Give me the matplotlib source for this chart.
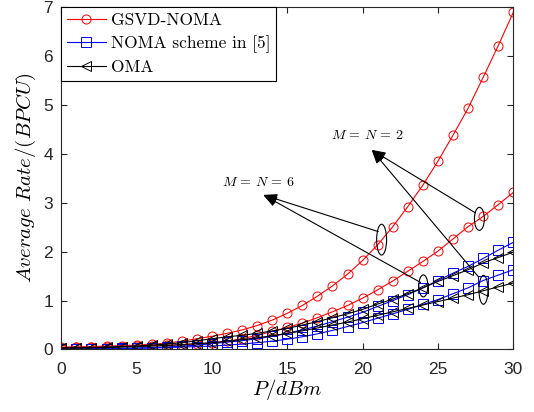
import matplotlib
matplotlib.use("Agg")
import matplotlib.pyplot as plt
from matplotlib.patches import Ellipse

plt.rcParams["mathtext.fontset"] = "cm"

# P/dBm
p_dbm = list(range(31))

# GSVD-NOMA
gsvd_m6 = [0.05, 0.055, 0.06, 0.07, 0.08, 0.09, 0.11, 0.13, 0.17, 0.22,
           0.27, 0.33, 0.40, 0.49, 0.60, 0.74, 0.90, 1.09, 1.30, 1.54,
           1.82, 2.14, 2.51, 2.92, 3.36, 3.85, 4.38, 4.93, 5.56, 6.21, 6.89]
gsvd_m2 = [0.04, 0.045, 0.05, 0.055, 0.06, 0.07, 0.08, 0.09, 0.10, 0.115,
           0.13, 0.17, 0.22, 0.29, 0.37, 0.45, 0.54, 0.65, 0.77, 0.90,
           1.05, 1.22, 1.40, 1.60, 1.80, 2.01, 2.26, 2.51, 2.72, 2.96, 3.21]

# NOMA scheme in [5]
noma_m6 = [0.01, 0.012, 0.015, 0.02, 0.025, 0.03, 0.04, 0.05, 0.07, 0.09,
           0.12, 0.15, 0.18, 0.22, 0.27, 0.33, 0.40, 0.48, 0.57, 0.66,
           0.76, 0.88, 1.00, 1.12, 1.26, 1.41, 1.56, 1.70, 1.86, 2.03, 2.19]
noma_m2 = [0.01, 0.01, 0.012, 0.015, 0.02, 0.025, 0.03, 0.04, 0.05, 0.06,
           0.07, 0.09, 0.11, 0.14, 0.17, 0.21, 0.26, 0.32, 0.39, 0.47,
           0.55, 0.64, 0.73, 0.82, 0.92, 1.02, 1.14, 1.26, 1.41, 1.52, 1.63]

# OMA
oma_m6 = [0.03, 0.035, 0.04, 0.05, 0.06, 0.07, 0.09, 0.11, 0.14, 0.18,
          0.22, 0.26, 0.29, 0.33, 0.38, 0.43, 0.50, 0.57, 0.65, 0.73,
          0.82, 0.93, 1.03, 1.14, 1.26, 1.39, 1.51, 1.63, 1.77, 1.88, 1.99]
oma_m2 = [0.03, 0.03, 0.035, 0.04, 0.05, 0.06, 0.07, 0.08, 0.10, 0.12,
          0.14, 0.17, 0.20, 0.24, 0.28, 0.33, 0.38, 0.44, 0.50, 0.56,
          0.63, 0.70, 0.77, 0.84, 0.91, 0.98, 1.05, 1.12, 1.20, 1.28, 1.36]

legend_labels = ["GSVD-NOMA", "NOMA scheme in [5]", "OMA"]

fig = plt.figure(figsize=(5.34, 4.12), dpi=100)
ax = fig.add_axes([0.1148, 0.1517, 0.8464, 0.8313])

mk = dict(markersize=6.5, mfc="none", lw=0.8, mew=0.7)
h1, = ax.plot(p_dbm, gsvd_m6, "-o", color="red", **mk)
ax.plot(p_dbm, gsvd_m2, "-o", color="red", **mk)
h2, = ax.plot(p_dbm, noma_m6, "-s", color="blue", **mk)
ax.plot(p_dbm, noma_m2, "-s", color="blue", **mk)
h3, = ax.plot(p_dbm, oma_m6, "-<", color="black", **mk)
ax.plot(p_dbm, oma_m2, "-<", color="black", **mk)

ax.set_xlim(0, 30)
ax.set_ylim(0, 7)
ax.set_xticks(range(0, 31, 5))
ax.set_yticks(range(0, 8))

gray = "#262626"
for s in ax.spines.values():
    s.set_color(gray)
    s.set_linewidth(0.8)
ax.tick_params(direction="in", top=True, right=True, length=4, width=0.8,
               colors=gray, labelsize=12.5)
ax.tick_params(axis="x", pad=9)
ax.tick_params(axis="y", pad=6)
for lab in ax.get_xticklabels() + ax.get_yticklabels():
    lab.set_family("Liberation Sans")

ax.set_xlabel(r"$P/dBm$", fontsize=15, labelpad=0)
ax.set_ylabel(r"$Average\ Rate/(BPCU)$", fontsize=15, labelpad=4)

# ellipses around curve pairs
for cx, cy, w, h in [(21.26, 2.245, 0.66, 0.63), (24.03, 1.30, 0.6, 0.45),
                     (27.75, 2.67, 0.66, 0.47), (28.02, 1.22, 0.6, 0.59)]:
    ax.add_patch(Ellipse((cx, cy), w, h, fill=False, ec="black", lw=0.8, zorder=5))

arrow = dict(arrowstyle="-|>,head_length=1.2,head_width=0.45", color="black",
             lw=0.8, shrinkA=0, shrinkB=0, mutation_scale=7)
for tail in [(27.5, 2.79), (27.7, 1.48)]:
    ax.annotate("", xy=(20.6, 4.08), xytext=tail, arrowprops=arrow)
for tail in [(21.04, 2.41), (23.85, 1.37)]:
    ax.annotate("", xy=(13.4, 3.16), xytext=tail, arrowprops=arrow)

ax.text(20.3, 4.39, r"$M\,=\,N\,=\,2$", fontsize=10, ha="center", va="center")
ax.text(13.06, 3.43, r"$M\,=\,N\,=\,6$", fontsize=10, ha="center", va="center")

leg = ax.legend([h1, h2, h3], legend_labels, loc="upper left",
                bbox_to_anchor=(0, 1), borderaxespad=0, fancybox=False,
                edgecolor="black", framealpha=1, handlelength=2.2,
                handletextpad=0.3, labelspacing=0.4, borderpad=0.35,
                prop=dict(family=["cmr10", "DejaVu Serif"], size=12.5))
leg.get_frame().set_linewidth(0.8)

fig.savefig("out.png", dpi=100)
